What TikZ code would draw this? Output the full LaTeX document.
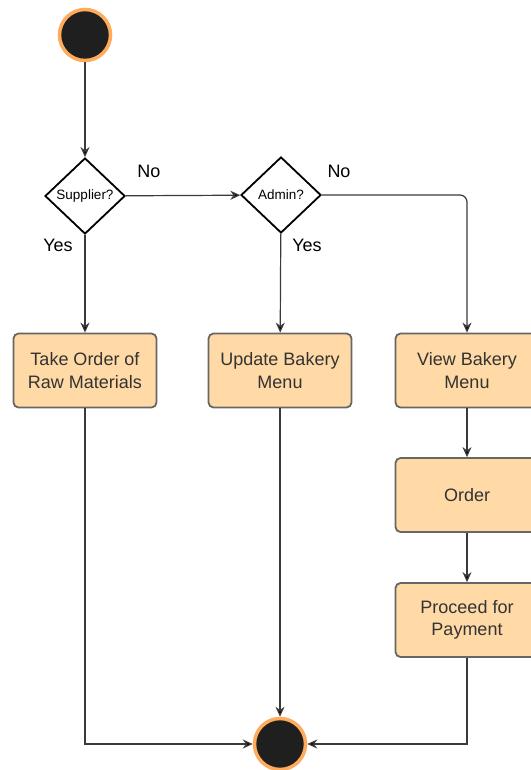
\documentclass[tikz,border=0pt]{standalone}
\usepackage{fontspec}
\setmainfont{Liberation Sans}
\usetikzlibrary{shapes.geometric,arrows.meta}
\definecolor{boxfill}{HTML}{FFD9A6}
\definecolor{boxline}{HTML}{666666}
\definecolor{ring}{HTML}{FFAB5A}
\definecolor{dot}{HTML}{1F1F1F}
\definecolor{txt}{HTML}{333333}
\definecolor{wire}{HTML}{3A3A3A}
\begin{document}
\begin{tikzpicture}[x=1pt,y=-1pt,
  terminal/.style={circle,draw=ring,fill=dot,line width=3.5pt,minimum size=51pt,inner sep=0pt},
  decision/.style={diamond,draw=black,line width=1.8pt,fill=white,aspect=1,
    minimum width=80pt,minimum height=76pt,inner sep=0pt,font=\fontsize{13.5}{15}\selectfont},
  action/.style={rectangle,rounded corners=5pt,draw=boxline,fill=boxfill,line width=1.8pt,
    minimum width=143pt,minimum height=74pt,align=center,text=txt,
    font=\fontsize{18}{22.5}\selectfont},
  arr/.style={draw=wire,line width=1.2pt,-{Stealth[length=10pt,width=9pt,fill=black]}},
  lbl/.style={font=\fontsize{18}{20}\selectfont,text=black}]
\useasboundingbox (0,0) rectangle (530,770);

% nodes
\node[terminal] (start) at (85,35) {};
\node[decision] (sup) at (85,196) {Supplier?};
\node[decision] (adm) at (281,195) {Admin?};
\node[action] (take) at (85,370.5) {Take Order of\\Raw Materials};
\node[action] (upd) at (280,370.5) {Update Bakery\\Menu};
\node[action] (view) at (467,370.5) {View Bakery\\Menu};
\node[action] (order) at (467,495) {Order};
\node[action] (pay) at (467,620) {Proceed for\\Payment};
\node[terminal] (stop) at (280,744) {};

% branch labels
\node[lbl] (no1) at (149,171) {No};
\node[lbl] (yes1) at (58,245) {Yes};
\node[lbl] (no2) at (339,171) {No};
\node[lbl] (yes2) at (307,245) {Yes};

% connectors
\draw[arr] (start) -- (sup);
\draw[arr] (sup) -- (adm);
\draw[arr] (sup) -- (take);
\draw[arr] (adm) -- (upd);
\draw[arr,rounded corners=7pt] (adm.east) -| (view.north);
\draw[arr] (view) -- (order);
\draw[arr] (order) -- (pay);
\draw[arr] (take.south) |- (stop.west);
\draw[arr] (upd) -- (stop);
\draw[arr] (pay.south) |- (stop.east);
\end{tikzpicture}
\end{document}
